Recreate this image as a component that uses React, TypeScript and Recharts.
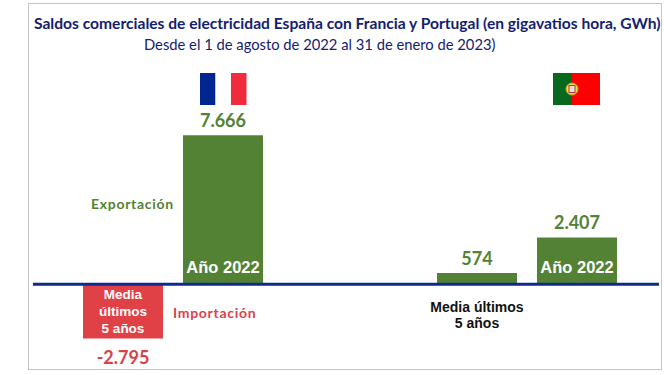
import { Bar, BarChart, Cell, LabelList, ReferenceLine, XAxis, YAxis } from "recharts";

const countries = ["Francia", "Portugal"];
const media5Years = [-2795, 574];
const year2022 = [7666, 2407];
const mediaLabel = ["Media", "últimos", "5 años"];
const portugalMediaLabel = ["Media últimos", "5 años"];

const data = countries.map((country, i) => ({
  country,
  media: media5Years[i],
  y2022: year2022[i],
}));

const GREEN = "#548235";
const RED = "#e04146";
const NAVY = "#14216e";
const TITLE_FONT = "Lato, 'Open Sans', sans-serif";
const BAR_FONT = "'Liberation Sans', Arial, sans-serif";

const fmt = (v: number) => v.toLocaleString("de-DE").replace("\u2212", "-");

function ValueLabel(props: any) {
  const { x, y, width, height, value } = props;
  const neg = value < 0;
  const cy = neg ? Math.max(y, y + height) + 18 : Math.min(y, y + height) - 15;
  return (
    <text
      x={x + width / 2}
      y={cy}
      textAnchor="middle"
      dominantBaseline="central"
      fontFamily={TITLE_FONT}
      fontWeight={700}
      fontSize={18}
      fill={neg ? "#d8434a" : GREEN}
    >
      {fmt(value)}
    </text>
  );
}

function YearLabel(props: any) {
  const { x, y, width, height } = props;
  return (
    <text
      x={x + width / 2}
      y={y + height - 17}
      textAnchor="middle"
      dominantBaseline="central"
      fontFamily={BAR_FONT}
      fontWeight={700}
      fontSize={16.5}
      fill="#fff"
    >
      Año 2022
    </text>
  );
}

function MediaLabel(props: any) {
  const { x, width, index, y, height } = props;
  const base = Math.min(y, y + height);
  const cx = x + width / 2;
  if (index === 0) {
    return (
      <g fontFamily={BAR_FONT} fontWeight={700} fontSize={13.5} fill="#fff" textAnchor="middle">
        {mediaLabel.map((t, i) => (
          <text key={t} x={cx} y={base + 10 + i * 17} dominantBaseline="central">
            {t}
          </text>
        ))}
      </g>
    );
  }
  return (
    <g fontFamily={BAR_FONT} fontWeight={700} fontSize={14} fill="#111" textAnchor="middle">
      {portugalMediaLabel.map((t, i) => (
        <text key={t} x={cx} y={base + 34 + i * 16} dominantBaseline="central">
          {t}
        </text>
      ))}
    </g>
  );
}

export default function App() {
  return (
    <div style={{ position: "absolute", left: 0, top: 0, width: 664, height: 375, background: "#fff" }}>
      <div
        style={{
          position: "absolute",
          left: 28,
          top: 3,
          width: 632,
          height: 365,
          border: "1px solid #c4c4c4",
        }}
      />
      <BarChart
        width={664}
        height={375}
        data={data}
        margin={{ top: 51, right: 5, bottom: 13, left: 33 }}
        barSize={80}
        barGap={20}
        style={{ position: "absolute", left: 0, top: 0 }}
      >
        <XAxis dataKey="country" hide padding={{ left: -37, right: -45 }} />
        <YAxis hide domain={[-4000, 12000]} />
        <Bar dataKey="media" isAnimationActive={false}>
          {data.map((d) => (
            <Cell key={d.country} fill={d.media < 0 ? RED : GREEN} />
          ))}
          <LabelList dataKey="media" content={ValueLabel} />
          <LabelList dataKey="media" content={MediaLabel} />
        </Bar>
        <Bar dataKey="y2022" fill={GREEN} isAnimationActive={false}>
          <LabelList dataKey="y2022" content={ValueLabel} />
          <LabelList dataKey="y2022" content={YearLabel} />
        </Bar>
        <ReferenceLine y={0} stroke="#0f2a8c" strokeWidth={3} />
      </BarChart>
      <svg width={664} height={375} style={{ position: "absolute", left: 0, top: 0 }}>
        <text x={34} y={29} fontFamily={TITLE_FONT} fontWeight={700} fontSize={15.6} fill={NAVY}>
          Saldos comerciales de electricidad España con Francia y Portugal (en gigavatios hora, GWh)
        </text>
        <text x={144} y={50} fontFamily={TITLE_FONT} fontSize={14.75} fill={NAVY}>
          Desde el 1 de agosto de 2022 al 31 de enero de 2023)
        </text>
        <text x={91} y={209} fontFamily={TITLE_FONT} fontWeight={700} fontSize={14} letterSpacing={0.7} fill={GREEN}>
          Exportación
        </text>
        <text x={173} y={318} fontFamily={TITLE_FONT} fontWeight={700} fontSize={14} letterSpacing={0.7} fill="#d8434a">
          Importación
        </text>
        <rect x={200} y={73} width={15.5} height={32} fill="#00268f" />
        <rect x={215.5} y={73} width={15.5} height={32} fill="#fff" />
        <rect x={231} y={73} width={15.5} height={32} fill="#ef2b3d" />
        <rect x={553} y={73} width={19} height={32} fill="#07691f" />
        <rect x={572} y={73} width={28} height={32} fill="#fe0000" />
        <circle cx={572} cy={89} r={6} fill="#e9e04a" stroke="#c9a020" strokeWidth={1} />
        <rect x={569} y={85.5} width={6} height={7} fill="#e6e0d8" stroke="#c03030" strokeWidth={1} />
      </svg>
    </div>
  );
}
